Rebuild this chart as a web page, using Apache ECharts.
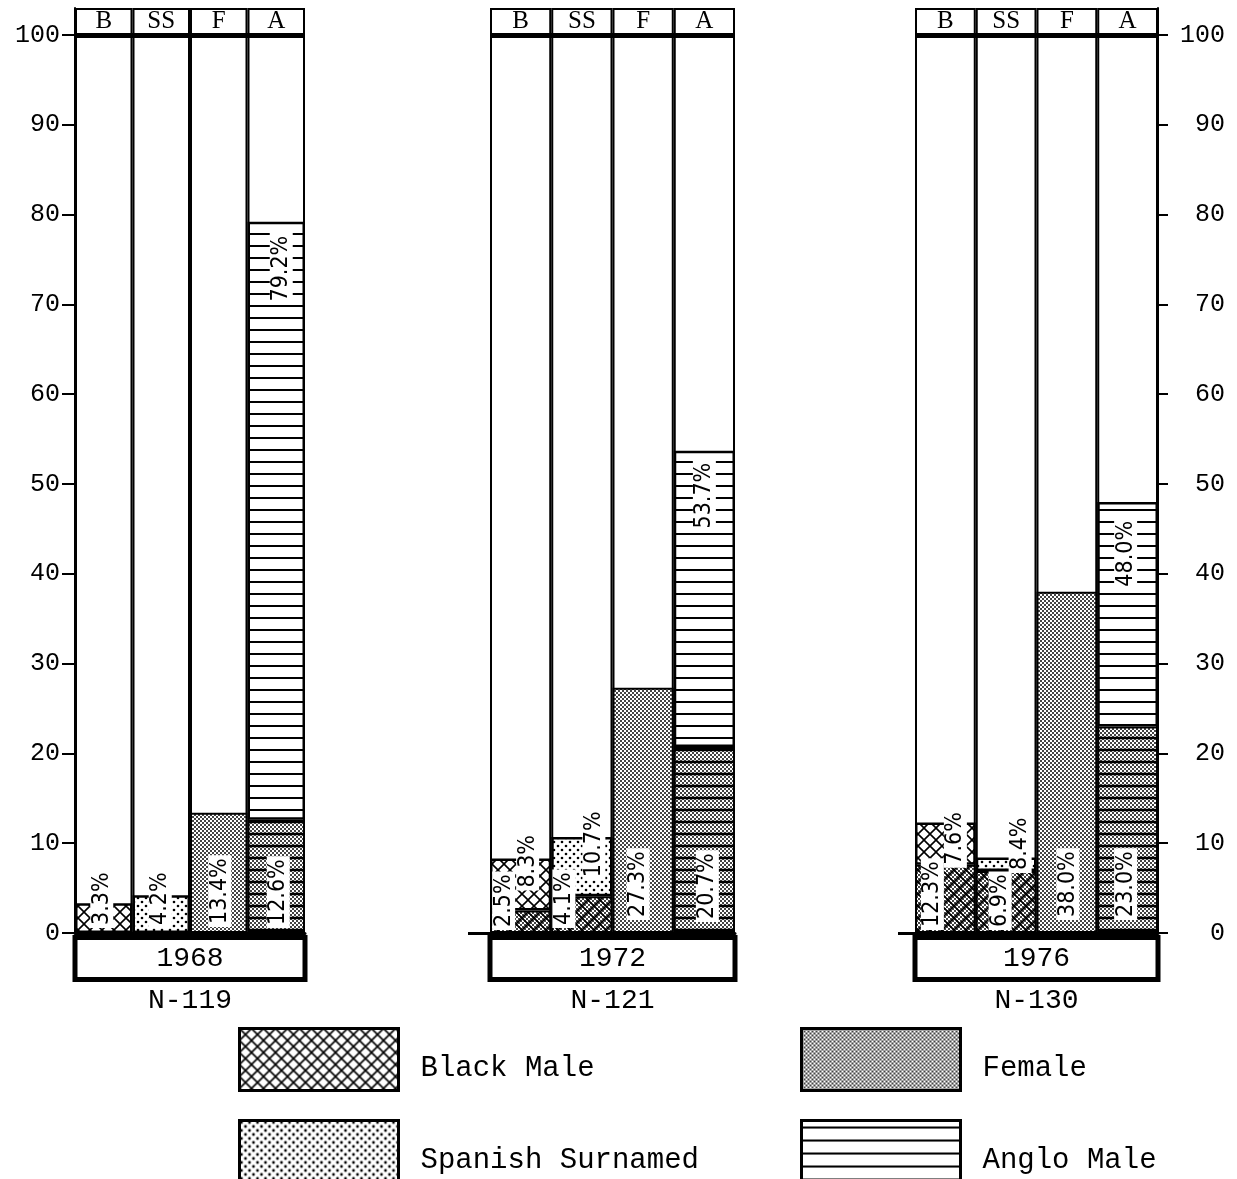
<!DOCTYPE html>
<html><head><meta charset="utf-8">
<script src="https://cdn.jsdelivr.net/npm/echarts@6/dist/echarts.min.js"></script>
<style>html,body{margin:0;padding:0;background:#fff}#c{width:1237px;height:1179px}</style>
</head><body><div id="c"></div>
<script>
// ---------------- data ----------------
const years = ['1968', '1972', '1976'];
const sampleSizes = ['N-119', 'N-121', 'N-130'];
const columns = ['B', 'SS', 'F', 'A'];
// shaded (lower) part of each column and the column total, in percent
const lower1968 = [0, 0, 13.4, 12.6];
const total1968 = [3.3, 4.2, 13.4, 79.2];
const lower1972 = [2.5, 4.1, 27.3, 20.7];
const total1972 = [8.3, 10.7, 27.3, 53.7];
const lower1976 = [7.6, 6.9, 38.0, 23.0];
const total1976 = [12.3, 8.4, 38.0, 48.0];
const yTicks = [0, 10, 20, 30, 40, 50, 60, 70, 80, 90, 100];
const legendNames = ['Black Male', 'Spanish Surnamed', 'Female', 'Anglo Male'];

// ---------------- patterns ----------------
function pat(w, h, draw) {
  const c = document.createElement('canvas');
  c.width = w; c.height = h;
  const ctx = c.getContext('2d');
  ctx.fillStyle = '#fff'; ctx.fillRect(0, 0, w, h);
  draw(ctx, w, h);
  return { image: c, repeat: 'repeat' };
}
function gray(ctx, w, h) {
  ctx.fillStyle = '#444';
  for (let x = 0; x < w; x += 2) for (let y = 0; y < h; y += 2)
    if (((x + y) / 2) % 2 === 0) ctx.fillRect(x, y, 2, 2);
}
function cross(ctx, s) {
  ctx.strokeStyle = '#000'; ctx.lineWidth = 1.6;
  ctx.beginPath();
  ctx.moveTo(-2, -2); ctx.lineTo(s + 2, s + 2);
  ctx.moveTo(s + 2, -2); ctx.lineTo(-2, s + 2);
  ctx.stroke();
}
function hlines(ctx, w, h, lw) {
  ctx.fillStyle = '#000';
  ctx.fillRect(0, Math.round(h / 2) - lw / 2, w, lw);
}
function dotGrid(step, r) {
  return pat(step, step, (ctx) => {
    ctx.fillStyle = '#000';
    const a = step / 4, b = 3 * step / 4;
    ctx.beginPath(); ctx.arc(a, a, r, 0, 7); ctx.fill();
    ctx.beginPath(); ctx.arc(b, b, r, 0, 7); ctx.fill();
  });
}
const P = {
  cross: pat(12, 12, (ctx, w) => cross(ctx, w)),
  dots: dotGrid(8, 1.3),
  dotsLegend: dotGrid(8, 1.4),
  gray: pat(4, 4, gray),
  lines: pat(12, 12, (ctx, w, h) => hlines(ctx, w, h, 2)),
  linesLegend: pat(13, 13, (ctx, w, h) => hlines(ctx, w, h, 2)),
  grayCross: pat(12, 12, (ctx, w, h) => { gray(ctx, w, h); cross(ctx, w); }),
  grayLines: pat(12, 12, (ctx, w, h) => { gray(ctx, w, h); hlines(ctx, w, h, 2.5); })
};
const lowerPat = [P.grayCross, P.grayCross, P.gray, P.grayLines];
const upperPat = [P.cross, P.dots, P.gray, P.lines];
const legendPat = [P.cross, P.dotsLegend, P.gray, P.linesLegend];

// ---------------- layout / style ----------------
const MONO = 'Liberation Mono, Courier New, monospace';
const NARROW = 'Liberation Sans Narrow, DejaVu Sans Condensed, Arial Narrow, sans-serif';
const grids = [
  { left: 75, width: 230 },
  { left: 490, width: 245 },
  { left: 915, width: 243 }
];
const GTOP = 8, GBOTTOM = 1179 - 933;
const YMAX = 103; // room for the column header box above 100
const legendPos = [[233, 1022], [233, 1114], [795, 1022], [795, 1114]];

// label slots: which segment carries it, which value it shows, and its placement
const labelLayout = [
  [ { upper: { pos: 'b', text: 'total', dist: 5, dx: -2 } },
    { upper: { pos: 'b', text: 'total', dist: 5, dx: -1 } },
    { lower: { pos: 'b', text: 'lower', dist: 6, dx: 1 } },
    { lower: { pos: 'b', text: 'lower', dist: 5, dx: 2 }, upper: { pos: 't', text: 'total', dist: 11, dx: 5 } } ],
  [ { lower: { pos: 'b', text: 'lower', dist: 3, dx: -17 }, upper: { pos: 'b', text: 'total', dist: 20, dx: 7 } },
    { lower: { pos: 'b', text: 'lower', dist: 5, dx: -18 }, upper: { pos: 'b', text: 'total', dist: 16, dx: 12 } },
    { lower: { pos: 'b', text: 'lower', dist: 13, dx: -5 } },
    { lower: { pos: 'b', text: 'lower', dist: 11, dx: 3 }, upper: { pos: 't', text: 'total', dist: 9, dx: 0 } } ],
  [ { lower: { pos: 'b', text: 'total', dist: 3, dx: -13 }, upper: { pos: 'b', text: 'lower', dist: -3, dx: 10 } },
    { lower: { pos: 'b', text: 'lower', dist: 3, dx: -6 }, upper: { pos: 'b', text: 'total', dist: -2, dx: 14 } },
    { lower: { pos: 'b', text: 'lower', dist: 13, dx: 1 } },
    { lower: { pos: 'b', text: 'lower', dist: 13, dx: -2 }, upper: { pos: 't', text: 'total', dist: 16, dx: -2 } } ]
];

function makeLabel(cfg, lower, total) {
  if (!cfg) return { show: false };
  const v = cfg.text === 'lower' ? lower : total;
  const top = cfg.pos === 't';
  return {
    show: true, formatter: v.toFixed(1) + '%',
    position: top ? 'insideTop' : 'insideBottom',
    rotate: 90, align: top ? 'right' : 'left', verticalAlign: 'middle',
    distance: cfg.dist, offset: [0, cfg.dx], // offset is in the rotated text frame
    backgroundColor: '#fff', padding: [0, 3],
    fontFamily: NARROW, fontSize: 23, color: '#000'
  };
}

const panels = [
  { lower: lower1968, total: total1968 },
  { lower: lower1972, total: total1972 },
  { lower: lower1976, total: total1976 }
];

const option = {
  animation: false,
  backgroundColor: '#fff',
  grid: grids.map(g => ({ left: g.left, width: g.width, top: GTOP, bottom: GBOTTOM })),
  xAxis: [],
  yAxis: [],
  series: [],
  legend: legendNames.map((n, i) => ({
    data: [n], left: legendPos[i][0], top: legendPos[i][1],
    orient: 'vertical', icon: 'rect', itemWidth: 159, itemHeight: 62,
    selectedMode: false,
    itemStyle: { borderColor: '#000', borderWidth: 3 },
    formatter: '{t|{name}}',
    textStyle: {
      color: '#000',
      rich: { t: { fontFamily: MONO, fontSize: 29, color: '#000', padding: [18, 0, 0, 17] } }
    }
  }))
};

grids.forEach((g, gi) => {
  option.xAxis.push({
    gridIndex: gi, type: 'category', data: columns, position: 'bottom',
    axisLine: { show: true, lineStyle: { color: '#000', width: 3 } },
    axisTick: { show: false }, axisLabel: { show: false }
  });
  option.xAxis.push({
    gridIndex: gi, type: 'category', data: [years[gi]], position: 'bottom',
    axisLine: { show: false }, axisTick: { show: false },
    axisLabel: {
      margin: 7, width: g.width - 5, height: 37, lineHeight: 37, align: 'center',
      overflow: 'none', backgroundColor: '#fff', borderColor: '#000', borderWidth: 5,
      fontFamily: MONO, fontSize: 28, color: '#000'
    },
    name: sampleSizes[gi], nameLocation: 'middle', nameGap: 45,
    nameTextStyle: { fontFamily: MONO, fontSize: 28, color: '#000' }
  });
});

const hiddenY = (gi, pos, tickLen) => ({
  gridIndex: gi, type: 'value', min: 0, max: YMAX, position: pos,
  axisLine: { show: false }, splitLine: { show: false },
  axisTick: { show: true, length: tickLen, customValues: [0], lineStyle: { color: '#000', width: 3 } },
  axisLabel: { show: false }
});
option.yAxis.push({
  gridIndex: 0, type: 'value', min: 0, max: YMAX, position: 'left',
  axisLine: { show: true, lineStyle: { color: '#000', width: 2 } },
  splitLine: { show: false },
  axisTick: { show: true, length: 13, customValues: yTicks, lineStyle: { color: '#000', width: 2 } },
  axisLabel: { customValues: yTicks, margin: 15, fontFamily: MONO, fontSize: 25, color: '#000' }
});
option.yAxis.push(hiddenY(1, 'left', 22));
option.yAxis.push({
  gridIndex: 2, type: 'value', min: 0, max: YMAX, position: 'right',
  axisLine: { show: true, lineStyle: { color: '#000', width: 2 } },
  splitLine: { show: false },
  axisTick: { show: true, length: 10, customValues: yTicks, lineStyle: { color: '#000', width: 2 } },
  axisLabel: { customValues: yTicks, margin: 67, align: 'right', fontFamily: MONO, fontSize: 25, color: '#000' }
});
option.yAxis.push(hiddenY(2, 'left', 17));

const barCommon = { type: 'bar', barWidth: '100%', barGap: '-100%', silent: true };

panels.forEach((p, gi) => {
  const axes = { xAxisIndex: gi * 2, yAxisIndex: gi };
  // white column boxes
  option.series.push(Object.assign({}, barCommon, axes, {
    stack: 'bg' + gi, z: 1,
    data: columns.map(() => 100),
    itemStyle: { color: '#fff', borderColor: '#000', borderWidth: 2 },
    markLine: {
      silent: true, symbol: 'none', label: { show: false },
      lineStyle: { color: '#000', width: 5, type: 'solid' },
      data: [{ yAxis: 100 }]
    }
  }));
  // header boxes with the column letters
  option.series.push(Object.assign({}, barCommon, axes, {
    stack: 'bg' + gi, z: 1,
    data: columns.map(() => YMAX - 100),
    itemStyle: { color: '#fff', borderColor: '#000', borderWidth: 2 },
    label: {
      show: true, position: 'inside', formatter: (d) => columns[d.dataIndex],
      fontFamily: 'Liberation Serif, DejaVu Serif, serif', fontSize: 25, color: '#000'
    }
  }));
  // shaded lower segment
  option.series.push(Object.assign({}, barCommon, axes, {
    stack: 'v' + gi, z: 3,
    data: p.lower.map((v, i) => v > 0 ? {
      value: v,
      itemStyle: { color: lowerPat[i], borderColor: '#000', borderWidth: 2 },
      label: makeLabel(labelLayout[gi][i].lower, p.lower[i], p.total[i])
    } : '-')
  }));
  // remaining upper segment
  option.series.push(Object.assign({}, barCommon, axes, {
    stack: 'v' + gi, z: 3,
    data: p.total.map((t, i) => {
      const v = +(t - p.lower[i]).toFixed(1);
      return v > 0 ? {
        value: v,
        itemStyle: { color: upperPat[i], borderColor: '#000', borderWidth: 2.5 },
        label: makeLabel(labelLayout[gi][i].upper, p.lower[i], p.total[i])
      } : '-';
    })
  }));
});

// legend entries
legendNames.forEach((n, i) => {
  option.series.push(Object.assign({}, barCommon, {
    name: n, xAxisIndex: 0, yAxisIndex: 0, data: [],
    itemStyle: { color: legendPat[i], borderColor: '#000', borderWidth: 3 }
  }));
});

const chart = echarts.init(document.getElementById('c'), null, { renderer: 'canvas' });
chart.setOption(option);
</script>
</body></html>
